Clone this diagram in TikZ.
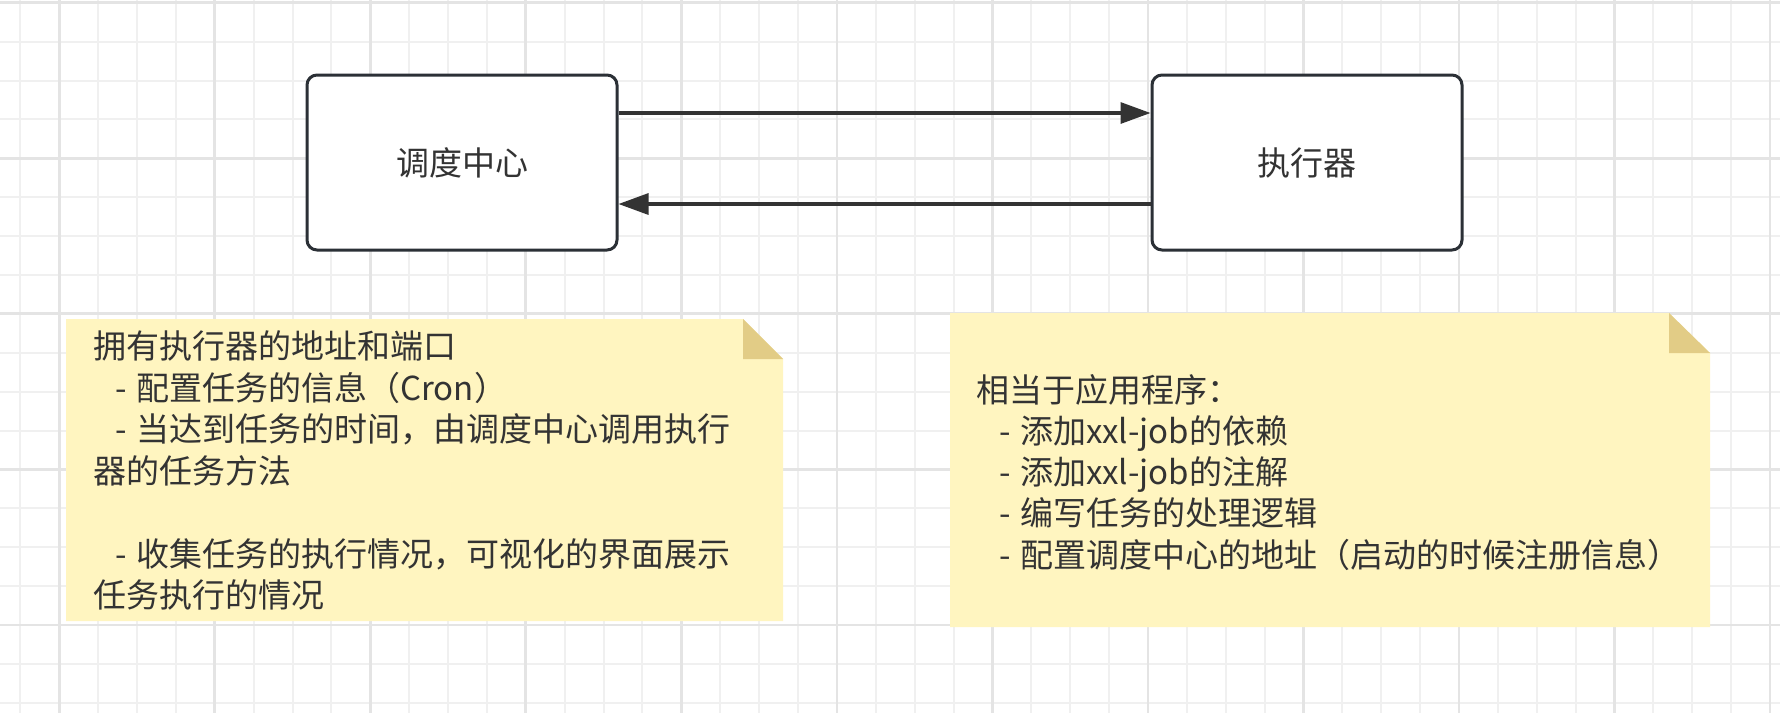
\documentclass[tikz,border=0pt]{standalone}
\usepackage{fontspec}
\setmainfont{Noto Sans CJK SC}
\usetikzlibrary{arrows.meta,calc}
\definecolor{gridminor}{HTML}{F0F0F0}
\definecolor{gridmajor}{HTML}{E4E4E4}
\definecolor{boxline}{HTML}{2B3036}
\definecolor{txt}{HTML}{333333}
\definecolor{notefill}{HTML}{FFF5C0}
\definecolor{notefold}{HTML}{E2CC86}
\definecolor{arrcol}{HTML}{333333}
\tikzset{
  proc/.style={draw=boxline, line width=1.5pt, fill=white, rounded corners=5pt,
    minimum width=155pt, minimum height=87.5pt, inner sep=0pt,
    text=txt, font=\fontsize{16.5}{20}\selectfont},
  conn/.style={draw=arrcol, line width=1.6pt, -{Triangle[length=15pt,width=10.5pt]}},
  ntext/.style={anchor=base west, inner sep=0pt, text=txt, font=\fontsize{16.5}{20}\selectfont},
  notebody/.style={fill=notefill},
  notecorner/.style={fill=notefold},
}
\newcommand{\dashL}{\makebox[10.7pt][l]{-}}
\newcommand{\dashR}{\makebox[10.5pt][l]{-}}
\begin{document}
\begin{tikzpicture}[x=0.5pt,y=-0.5pt]
\fill[white] (0,0) rectangle (1780,713);
\useasboundingbox (0,0) rectangle (1780,713);
% grid
\foreach \k in {0,...,45} {
  \draw[gridminor, line width=1pt] ({20.4+\k*38.88},0) -- ({20.4+\k*38.88},713);
}
\foreach \j in {0,...,18} {
  \draw[gridminor, line width=1pt] (0,{2.74+\j*38.89}) -- (1780,{2.74+\j*38.89});
}
\foreach \m in {0,...,11} {
  \draw[gridmajor, line width=1.4pt] ({59.3+\m*155.52},0) -- ({59.3+\m*155.52},713);
}
\foreach \m in {0,...,4} {
  \draw[gridmajor, line width=1.4pt] (0,{2.74+\m*155.56}) -- (1780,{2.74+\m*155.56});
}
% boxes
\node[proc] (lb) at (462,162.5) {调度中心};
\node[proc] (rb) at (1307,162.5) {执行器};
% connectors
\draw[conn] ([yshift=24.75pt]lb.east) -- ([yshift=24.75pt]rb.west);
\draw[conn] ([yshift=-20.75pt]rb.west) -- ([yshift=-20.75pt]lb.east);
% left note
\fill[notebody] (66,319) -- (743,319) -- (783,359) -- (783,621) -- (66,621) -- cycle;
\fill[notecorner] (743,319) -- (743,359) -- (783,359) -- cycle;
\node[ntext] (l1) at (93,358.7) {拥有执行器的地址和端口};
\node[ntext] (l2) at (114.6,400.2) {\dashL 配置任务的信息（Cron）};
\node[ntext] (l3) at (114.6,441.7) {\dashL 当达到任务的时间，由调度中心调用执行};
\node[ntext] (l4) at (93,483.2) {器的任务方法};
\node[ntext] (l5) at (114.6,566.2) {\dashL 收集任务的执行情况，可视化的界面展示};
\node[ntext] (l6) at (93,607.7) {任务执行的情况};
% right note
\fill[notebody] (950,313) -- (1669,313) -- (1710,353) -- (1710,627) -- (950,627) -- cycle;
\fill[notecorner] (1669,313) -- (1669,353) -- (1710,353) -- cycle;
\node[ntext] (r1) at (975.8,402) {相当于应用程序：};
\node[ntext] (r2) at (998.7,443.3) {\dashR 添加xxl-job的依赖};
\node[ntext] (r3) at (998.7,484.5) {\dashR 添加xxl-job的注解};
\node[ntext] (r4) at (998.7,525.8) {\dashR 编写任务的处理逻辑};
\node[ntext] (r5) at (998.7,567) {\dashR 配置调度中心的地址（启动的时候注册信息）};
\end{tikzpicture}
\end{document}
